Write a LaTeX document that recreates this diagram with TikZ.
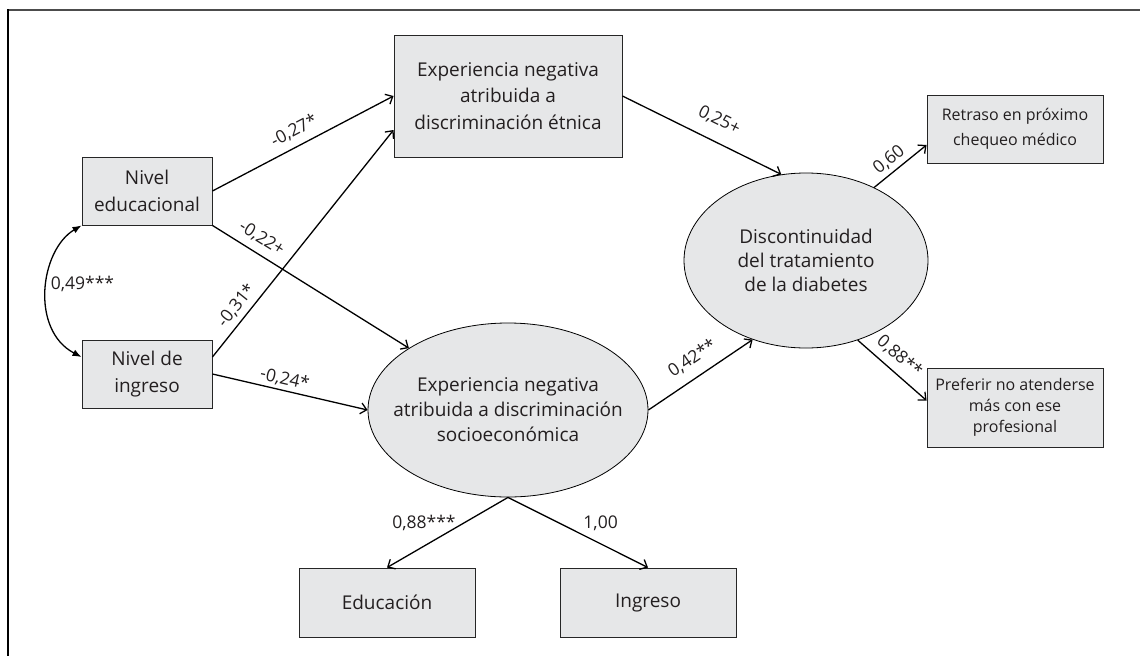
\documentclass[tikz,border=0pt]{standalone}
\usepackage{fontspec}
\setmainfont{Open Sans}
\usetikzlibrary{arrows.meta,shapes.geometric,calc}
\definecolor{boxgray}{HTML}{E6E7E8}
\definecolor{txt}{HTML}{231F20}
\begin{document}
\begin{tikzpicture}[x=1pt,y=1pt,
  every node/.style={text=txt},
  box/.style={draw=black!85, line width=0.9pt, fill=boxgray, inner sep=0pt, align=center, font=\fontsize{19}{26.5}\selectfont},
  sbox/.style={box, font=\fontsize{16}{25}\selectfont},
  lat/.style={ellipse, draw=black, line width=0.8pt, fill=boxgray, inner sep=0pt},
  lattext/.style={align=center, inner sep=0pt, font=\fontsize{19}{25}\selectfont},
  pth/.style={line width=1.3pt, draw=black, -{Straight Barb[length=6pt,width=11pt]}},
  coef/.style={font=\fontsize{17.5}{19}\selectfont, sloped, inner sep=2pt},
  coefh/.style={font=\fontsize{17.5}{19}\selectfont, inner sep=2pt},
]
\useasboundingbox (0,0) rectangle (1140,-656);
% frame
\draw[draw=black!70, line width=2pt] (7,-10) -- (1140,-10);
\draw[line width=1.5pt] (8,-9) -- (8,-656);

% observed variables
\node[box, minimum width=130pt, minimum height=68pt] (educ) at (147,-191) {Nivel\\educacional};
\node[box, minimum width=130pt, minimum height=68pt] (ingr) at (147,-374) {Nivel de\\ingreso};
\node[box, minimum width=228pt, minimum height=122pt] (ethnic) at (508,-96) {Experiencia negativa\\atribuida a\\discriminación étnica};
\node[sbox, minimum width=176pt, minimum height=68pt] (retraso) at (1015,-129) {Retraso en próximo\\chequeo médico};
\node[sbox, minimum width=176pt, minimum height=79pt, font=\fontsize{16}{20.8}\selectfont] (preferir) at (1015,-407.5) {Preferir no atenderse\\más con ese\\profesional};
\node[box, minimum width=176pt, minimum height=69pt] (educacion) at (387,-602.5) {Educación};
\node[box, minimum width=176pt, minimum height=69pt] (ingresob) at (648,-602.5) {Ingreso};

% latent variables
\node[lat, minimum width=280pt, minimum height=174pt] (socio) at (508,-410) {};
\node[lattext] (sociot) at (socio) {Experiencia negativa\\atribuida a discriminación\\socioeconómica};
\node[lat, minimum width=244pt, minimum height=175pt] (disc) at (806,-260.5) {};
\node[lattext, font=\fontsize{19}{24}\selectfont] (disct) at (disc) {Discontinuidad\\del tratamiento\\de la diabetes};

% paths
\draw[pth] (educ.east) -- node[coef, pos=0.49, above=5pt] (l1) {-0,27*} (ethnic.west);
\draw[pth] (educ.south east) -- node[coef, pos=0.21, above=5pt] (l2) {-0,22+} (socio);
\draw[pth] ([yshift=17pt]ingr.east) -- node[coef, pos=0.19, above=3pt] (l3) {-0,31*} ([yshift=-34pt]ethnic.west);
\draw[pth] (ingr.east) -- node[coef, pos=0.45, above=1pt] (l4) {-0,24*} (socio.west);
\draw[pth] (ethnic.east) -- node[coef, pos=0.55, above=11pt] (l5) {0,25+} (disc.106);
\draw[pth] (socio.east) -- node[coef, pos=0.52, above=8pt] (l6) {0,42**} (disc.236);
\draw[pth] (disc.47) -- node[coef, pos=0.43, above=2pt] (l7) {0,60} ([yshift=-16pt]retraso.west);
\draw[pth] (disc.303) -- node[coef, pos=0.46, above=5pt] (l8) {0,88**} ([yshift=7pt]preferir.west);
\draw[pth] (socio.south) -- node[coefh, pos=0.37, left=5pt] (l9) {0,88***} (educacion.north);
\draw[pth] (socio.south) -- node[coefh, pos=0.37, right=21pt] (l10) {1,00} (ingresob.north);

% correlation
\draw[line width=1.3pt, {Latex[length=9pt,width=7pt]}-{Latex[length=9pt,width=7pt]}]
  (educ.south west) .. controls (40,-250) and (30,-330) .. ([yshift=17pt]ingr.west)
  node[coefh, pos=0.46, right=1pt] (l11) {0,49***};
\end{tikzpicture}
\end{document}
